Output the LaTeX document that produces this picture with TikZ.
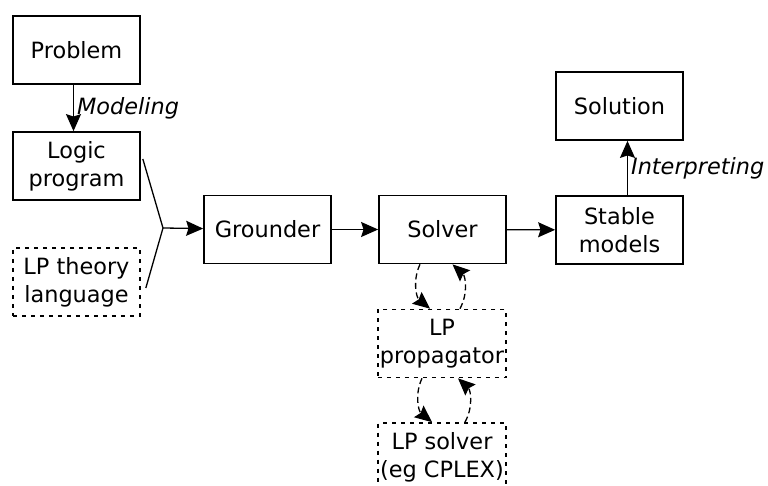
\documentclass[tikz,border=0pt]{standalone}
\usepackage{fontspec}
\setmainfont{DejaVu Sans}
\usetikzlibrary{arrows.meta,shapes}
\tikzstyle{box}=[draw,line width=0.85pt,minimum width=63.5pt,minimum height=34pt,inner sep=1pt,align=center,font=\fontsize{11.2pt}{14pt}\selectfont]
\tikzstyle{dbox}=[box,dash pattern=on 2pt off 2.5pt]
\tikzstyle{arrow}=[draw,line width=0.65pt,-{Stealth[length=8.5pt,width=7.5pt,inset=1.2pt]}]
\tikzstyle{loop}=[arrow,dash pattern=on 3pt off 1.8pt]
\tikzstyle{step label}=[font=\fontsize{11.2pt}{14pt}\selectfont\itshape,inner sep=1.5pt]

\begin{document}
\begin{tikzpicture}[x=0.5pt,y=-0.5pt]
    \useasboundingbox (0,0) rectangle (768,486);
    % First we draw the boxes
    \foreach \pos/\name/\kind/\txt in {{(76.5,50)/problem/box/Problem}, {(76.5,166)/logic/box/Logic\\program},
        {(76.5,282)/theory/dbox/LP theory\\language}, {(267.5,229.5)/grounder/box/Grounder},
        {(442.5,229.5)/solver/box/Solver}, {(619.5,230)/stable/box/Stable\\models},
        {(619.5,106)/solution/box/Solution}, {(442,343.5)/prop/dbox/LP\\propagator},
        {(442,457)/lpsolver/dbox/LP solver\\(eg CPLEX)}}
        \node[\kind] (\name) at \pos {\txt};
    % Join the two inputs of the grounder
    \coordinate (join) at (163,228);
    \path[draw,line width=0.65pt] ([shift={(2,-7)}]logic.east) -- (join) -- ([shift={(5,6)}]theory.east);
    % Main pipeline
    \foreach \source/\dest in {join/grounder, grounder/solver, solver/stable}
        \path[arrow] (\source) -- (\dest);
    \path[arrow] ([xshift=-1.5pt]problem.south) -- node[step label,anchor=west] {Modeling} ([xshift=-1.5pt]logic.north);
    \path[arrow] ([xshift=4pt]stable.north) -- node[step label,anchor=west] {Interpreting} ([xshift=4pt]solution.south);
    % Calls between solver, propagator and LP solver
    \path[loop] ([xshift=-11.25pt]solver.south) to[bend right=38] ([xshift=-6pt]prop.north);
    \path[loop] ([xshift=9pt]prop.north) to[bend right=38] ([xshift=5pt]solver.south);
    \path[loop] ([xshift=-10pt]prop.south) to[bend right=38] ([xshift=-5pt]lpsolver.north);
    \path[loop] ([xshift=11.5pt]lpsolver.north) to[bend right=38] ([xshift=8pt]prop.south);
\end{tikzpicture}
\end{document}
